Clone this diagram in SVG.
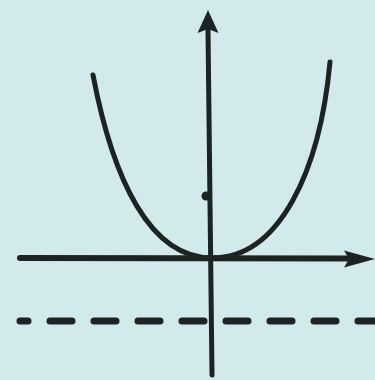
<svg xmlns="http://www.w3.org/2000/svg" width="375" height="380" viewBox="0 0 375 380">
  <defs>
    <style>
      .ink { stroke: #1d2222; fill: none; stroke-linecap: round; }
      .head { fill: #1d2222; stroke: none; }
    </style>
  </defs>
  <rect x="0" y="0" width="375" height="380" fill="#d3eaed"/>
  <g id="connectors">
    <line id="directrix" class="ink" x1="20" y1="321" x2="380" y2="321" stroke-width="7" stroke-linecap="butt" stroke-dasharray="22 22" stroke-dashoffset="14"/>
    <g id="x-axis">
      <line class="ink" x1="20" y1="258" x2="350" y2="258.5" stroke-width="6"/>
      <polygon class="head" points="375,259 344,250.5 349,259 344,267.5"/>
    </g>
    <g id="y-axis">
      <line class="ink" x1="208" y1="30" x2="212" y2="375" stroke-width="5"/>
      <polygon class="head" points="208,10 218.5,33 208,29 197.5,33"/>
    </g>
  </g>
  <g id="parabola">
    <path class="ink" stroke-width="5" d="M93,75 C113,180 150,258 212,258 C280,258 320,170 330,62"/>
  </g>
  <g id="focus">
    <circle cx="206" cy="196" r="4.5" fill="#1d2222"/>
  </g>
</svg>
